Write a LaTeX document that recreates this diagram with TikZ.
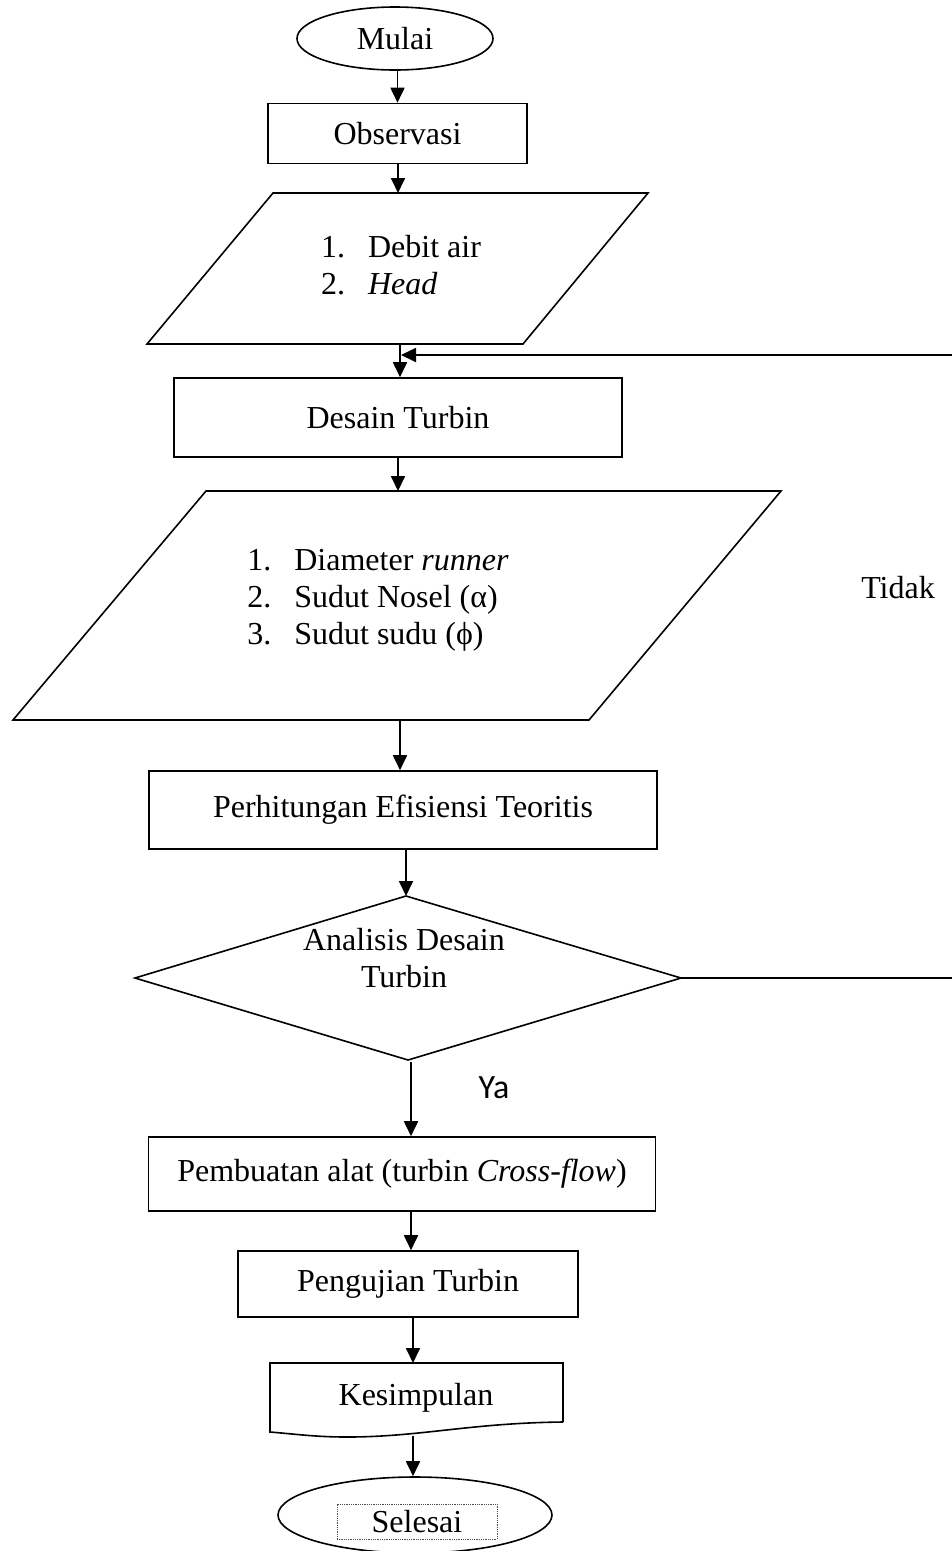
\documentclass[tikz,border=0pt]{standalone}
\usepackage{fontspec}
\setmainfont{Liberation Serif}
\newfontfamily\labelfont{Carlito}
\usetikzlibrary{arrows.meta,shapes.geometric}
\begin{document}
\begin{tikzpicture}[x=1pt,y=-1pt,
  every node/.style={font=\fontsize{32}{37}\selectfont},
  outline/.style={draw,line width=1.6pt},
  proc/.style={outline,rectangle,inner sep=0pt},
  flow/.style={line width=1.8pt,-{Triangle[length=15pt,width=14pt]}},
  plain/.style={line width=1.8pt},
  listing/.style={align=left,inner sep=0pt},
]
\useasboundingbox (0,0) rectangle (952,1551);

% terminal: start
\node[outline,ellipse,minimum width=196pt,minimum height=63pt,inner sep=0pt] (start) at (395,38.5) {Mulai};

% observation
\node[proc,minimum width=259pt,minimum height=60pt] (obs) at (397.5,133.5) {Observasi};

% input data
\draw[outline] (273,193) -- (648,193) -- (523,344) -- (147,344) -- cycle;
\coordinate (in1top) at (398,193);
\coordinate (in1bot) at (400,344);
\node[listing] (in1) at (401,268.5) {\begin{tabular}{@{}l@{\hspace{23pt}}l@{}}1.&Debit air\\2.&\textit{Head}\end{tabular}};

% turbine design
\node[proc,minimum width=448pt,minimum height=79pt] (des) at (398,417.5) {Desain Turbin};

% design parameters
\draw[outline] (206,491) -- (781,491) -- (589,720) -- (13,720) -- cycle;
\coordinate (in2top) at (398,491);
\coordinate (in2bot) at (400,720);
\node[listing] (in2) at (378,600) {\begin{tabular}{@{}l@{\hspace{23pt}}l@{}}1.&Diameter \textit{runner}\\2.&Sudut Nosel (α)\\3.&Sudut sudu (ϕ)\end{tabular}};

% efficiency calculation
\node[proc,minimum width=508pt,minimum height=78pt] (calc) at (403,810) {Perhitungan Efisiensi Teoritis};

% decision
\coordinate (dtop) at (406,896);
\coordinate (dbot) at (408,1060);
\coordinate (dleft) at (135,978);
\coordinate (dright) at (681,978);
\draw[outline] (dleft) -- (dtop) -- (dright) -- (dbot) -- cycle;
\node[align=center,inner sep=0pt] (dec) at (404,958) {Analisis Desain\\Turbin};

% fabrication
\node[proc,minimum width=507pt,minimum height=74pt] (make) at (402,1174) {Pembuatan alat (turbin \textit{Cross-flow})};

% testing
\node[proc,minimum width=340pt,minimum height=66pt] (test) at (408,1284) {Pengujian Turbin};

% conclusion (document shape)
\draw[outline] (563,1422) -- (563,1363) -- (270,1363) -- (270,1432)
  .. controls (295,1434) and (315,1437) .. (347,1437)
  .. controls (420,1437) and (470,1423) .. (563,1422);
\coordinate (kestop) at (413,1363);
\coordinate (kesbot) at (413,1436);
\node (kes) at (416,1398) {Kesimpulan};

% terminal: end
\node[outline,ellipse,minimum width=274pt,minimum height=76pt,inner sep=0pt] (stop) at (415,1515) {};
\node[draw=black!70,densely dotted,line width=0.8pt,minimum width=160pt,minimum height=35pt,inner sep=0pt] (stoptxt) at (417,1521.5) {Selesai};

% connectors
\draw[flow] (start.south -| obs.north) -- (obs.north);
\draw[flow] (obs.south -| in1top) -- (in1top);
\draw[flow] (in1bot) -- (des.north -| in1bot);
\draw[flow] (des.south -| in2top) -- (in2top);
\draw[flow] (in2bot) -- (calc.north -| in2bot);
\draw[flow] (calc.south -| dtop) -- (dtop);
\coordinate (ybot) at (411,1062);
\draw[flow] (ybot) -- (make.north -| ybot);
\draw[flow] (make.south -| ybot) -- (test.north -| ybot);
\draw[flow] (test.south -| kestop) -- (kestop);
\draw[flow] (kesbot) -- (stop.north -| kesbot);

% loop back when the design is rejected
\coordinate (loopR) at (952,355);
\coordinate (loopL) at (401,355);
\draw[plain] (dright) -- (dright -| loopR);
\draw[flow] (loopR) -- (loopL);

% branch labels
\node (no) at (898,588) {Tidak};
\node[font=\labelfont\fontsize{34}{38}\selectfont] (yes) at (494,1088) {Ya};
\end{tikzpicture}
\end{document}
